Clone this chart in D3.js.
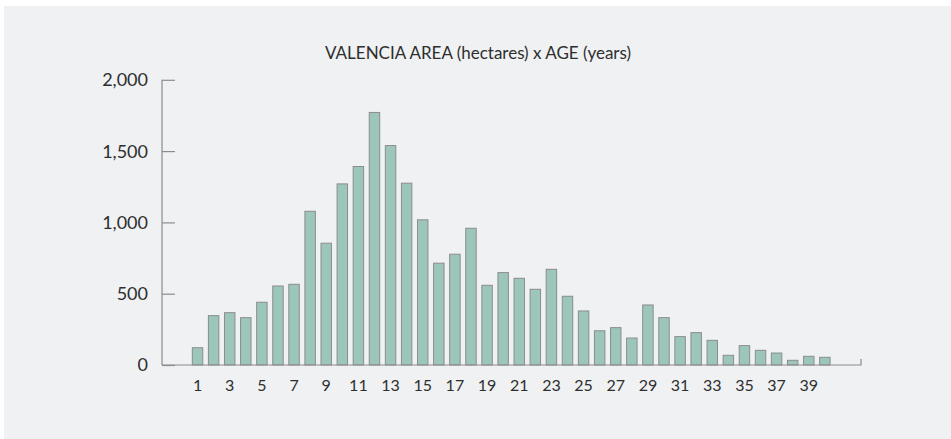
<!DOCTYPE html>
<html>
<head>
<meta charset="utf-8">
<script src="https://cdn.jsdelivr.net/npm/d3@7"></script>
<style>
  html, body { margin: 0; padding: 0; background: #fff; }
  svg { display: block; }
  text { font-family: Lato, "Liberation Sans", sans-serif; fill: #2e2e2e; }
</style>
</head>
<body>
<div id="chart"></div>
<script>
// Valencia area (hectares) by age (years)
var ages = d3.range(1, 41);
var hectares = [
  121, 346, 367, 332, 440, 554, 566, 1078, 854, 1270,
  1392, 1771, 1539, 1275, 1018, 714, 777, 959, 559, 648,
  608, 531, 671, 482, 379, 240, 262, 189, 421, 332,
  199, 227, 173, 68, 136, 103, 84, 33, 61, 54
];
var yTicks = [0, 500, 1000, 1500, 2000];
var xTickLabels = d3.range(1, 40, 2);
var title = "VALENCIA AREA (hectares) x AGE (years)";

var W = 951, H = 439;
var axisLeft = 162, axisRight = 861, axisBottom = 365;

var svg = d3.select("#chart").append("svg")
  .attr("width", W)
  .attr("height", H);

// fondo del panel
svg.append("rect")
  .attr("x", 4).attr("y", 6)
  .attr("width", W - 4).attr("height", H - 6)
  .attr("fill", "#f0f1f3");

var x = d3.scaleBand()
  .domain(ages)
  .range([189.5, 832.9])
  .paddingInner(0.35)
  .paddingOuter(0.175);

var y = d3.scaleLinear()
  .domain([0, 2000])
  .range([axisBottom, 79.8]);

// barras
svg.selectAll(".bar")
  .data(ages)
  .enter()
  .append("rect")
  .attr("class", "bar")
  .attr("x", function (d) { return x(d); })
  .attr("y", function (d, i) { return y(hectares[i]); })
  .attr("width", x.bandwidth())
  .attr("height", function (d, i) { return axisBottom - y(hectares[i]); })
  .attr("fill", "#9dc6ba")
  .attr("stroke", "#8c8c8c")
  .attr("stroke-width", 1);

// eje y
var yAxis = svg.append("g")
  .attr("transform", "translate(" + axisLeft + ",0)")
  .call(d3.axisRight(y).tickValues(yTicks).tickSize(13).tickFormat(""));
yAxis.select(".domain").remove();
yAxis.selectAll("line").attr("stroke", "#8c8c8c").attr("stroke-width", 1.2);
yAxis.append("line")
  .attr("x1", 0).attr("x2", 0)
  .attr("y1", y(2000)).attr("y2", axisBottom)
  .attr("stroke", "#8c8c8c").attr("stroke-width", 1.2);

svg.selectAll(".ylab")
  .data(yTicks)
  .enter()
  .append("text")
  .attr("class", "ylab")
  .attr("x", 148)
  .attr("y", function (d) { return y(d); })
  .attr("dy", "0.36em")
  .attr("text-anchor", "end")
  .style("font-size", "18px")
  .text(d3.format(","));

// eje x
svg.append("path")
  .attr("d", "M" + axisLeft + "," + axisBottom + "H" + axisRight + "V" + (axisBottom - 6))
  .attr("fill", "none")
  .attr("stroke", "#8c8c8c")
  .attr("stroke-width", 1.2);

svg.selectAll(".xlab")
  .data(xTickLabels)
  .enter()
  .append("text")
  .attr("class", "xlab")
  .attr("x", function (d) { return x(d) + x.bandwidth() / 2; })
  .attr("y", 390.5)
  .attr("text-anchor", "middle")
  .style("font-size", "16px")
  .text(function (d) { return d; });

// titulo
var t = svg.append("text")
  .attr("x", 478)
  .attr("y", 58.5)
  .attr("text-anchor", "middle")
  .style("font-size", "18px")
  .text(title);
if (t.node().getComputedTextLength() > 306) {
  t.attr("textLength", 306).attr("lengthAdjust", "spacingAndGlyphs");
}
</script>
</body>
</html>
